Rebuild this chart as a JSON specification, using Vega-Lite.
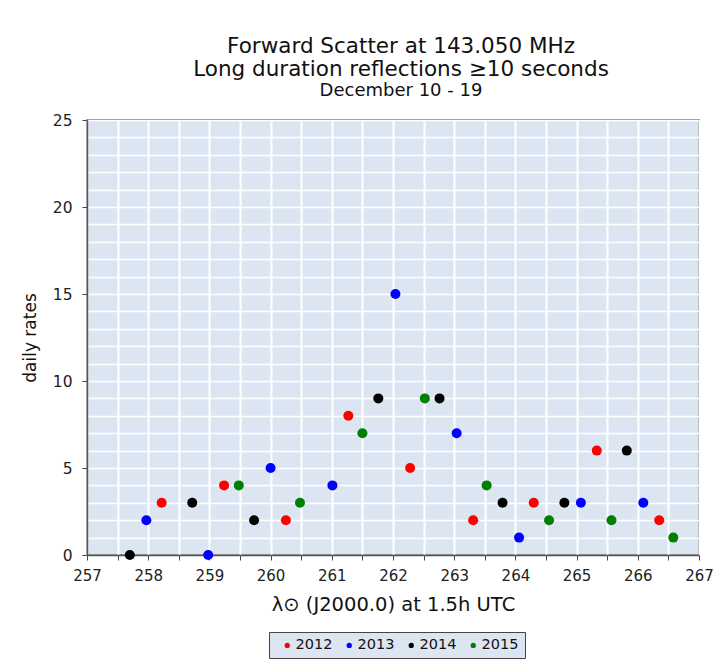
{
  "$schema": "https://vega.github.io/schema/vega-lite/v6.json",
  "width": 612,
  "height": 435,
  "autosize": {"type": "none"},
  "padding": {"left": 87, "top": 120, "right": 20, "bottom": 109},
  "background": "white",
  "title": {
    "text": ["Forward Scatter at 143.050 MHz", "Long duration reflections ≥10 seconds"],
    "subtitle": "December 10 - 19",
    "font": "DejaVu Sans",
    "fontSize": 21.5,
    "fontWeight": "normal",
    "color": "#111111",
    "lineHeight": 23,
    "subtitleFont": "DejaVu Sans",
    "subtitleFontSize": 18,
    "subtitleColor": "#111111",
    "subtitleLineHeight": 20,
    "subtitlePadding": 1.5,
    "offset": 13,
    "anchor": "middle",
    "dx": 8
  },
  "config": {
    "view": {"stroke": "#555555", "strokeWidth": 1.5, "fill": "#dce6f2"},
    "axis": {
      "labelFont": "DejaVu Sans",
      "titleFont": "DejaVu Sans",
      "labelColor": "#222222",
      "titleColor": "#111111",
      "titleFontWeight": "normal",
      "domainColor": "#555555",
      "domainWidth": 1.5,
      "tickColor": "#444444",
      "tickSize": 5,
      "gridColor": "#ffffff",
      "gridOpacity": 1
    }
  },
  "data": {
    "values": [
      {"year": "2012", "lambda": 258.22, "rate": 3},
      {"year": "2012", "lambda": 259.24, "rate": 4},
      {"year": "2012", "lambda": 260.25, "rate": 2},
      {"year": "2012", "lambda": 261.27, "rate": 8},
      {"year": "2012", "lambda": 262.28, "rate": 5},
      {"year": "2012", "lambda": 263.31, "rate": 2},
      {"year": "2012", "lambda": 264.30, "rate": 3},
      {"year": "2012", "lambda": 265.33, "rate": 6},
      {"year": "2012", "lambda": 266.35, "rate": 2},
      {"year": "2013", "lambda": 257.97, "rate": 2},
      {"year": "2013", "lambda": 258.98, "rate": 0},
      {"year": "2013", "lambda": 260.00, "rate": 5},
      {"year": "2013", "lambda": 261.01, "rate": 4},
      {"year": "2013", "lambda": 262.04, "rate": 15},
      {"year": "2013", "lambda": 263.04, "rate": 7},
      {"year": "2013", "lambda": 264.06, "rate": 1},
      {"year": "2013", "lambda": 265.07, "rate": 3},
      {"year": "2013", "lambda": 266.09, "rate": 3},
      {"year": "2014", "lambda": 257.70, "rate": 0},
      {"year": "2014", "lambda": 258.72, "rate": 3},
      {"year": "2014", "lambda": 259.73, "rate": 2},
      {"year": "2014", "lambda": 261.76, "rate": 9},
      {"year": "2014", "lambda": 262.76, "rate": 9},
      {"year": "2014", "lambda": 263.79, "rate": 3},
      {"year": "2014", "lambda": 264.80, "rate": 3},
      {"year": "2014", "lambda": 265.82, "rate": 6},
      {"year": "2015", "lambda": 259.48, "rate": 4},
      {"year": "2015", "lambda": 260.48, "rate": 3},
      {"year": "2015", "lambda": 261.50, "rate": 7},
      {"year": "2015", "lambda": 262.52, "rate": 9},
      {"year": "2015", "lambda": 263.53, "rate": 4},
      {"year": "2015", "lambda": 264.55, "rate": 2},
      {"year": "2015", "lambda": 265.57, "rate": 2},
      {"year": "2015", "lambda": 266.58, "rate": 1}
    ]
  },
  "mark": {"type": "circle", "size": 100, "opacity": 1},
  "encoding": {
    "x": {
      "field": "lambda",
      "type": "quantitative",
      "scale": {"domain": [257, 267], "nice": false, "zero": false},
      "axis": {
        "values": [257, 257.5, 258, 258.5, 259, 259.5, 260, 260.5, 261, 261.5, 262, 262.5, 263, 263.5, 264, 264.5, 265, 265.5, 266, 266.5, 267],
        "labelExpr": "datum.value % 1 === 0 ? format(datum.value, 'd') : ''",
        "labelFontSize": 15,
        "labelPadding": 8,
        "labelFlush": false,
        "gridWidth": 2,
        "title": "λ⊙ (J2000.0) at 1.5h UTC",
        "titleFontSize": 19.5,
        "titlePadding": 12
      }
    },
    "y": {
      "field": "rate",
      "type": "quantitative",
      "scale": {"domain": [0, 25], "nice": false},
      "axis": {
        "values": [0, 1, 2, 3, 4, 5, 6, 7, 8, 9, 10, 11, 12, 13, 14, 15, 16, 17, 18, 19, 20, 21, 22, 23, 24, 25],
        "labelExpr": "datum.value % 5 === 0 ? format(datum.value, 'd') : ''",
        "tickOpacity": {"condition": {"test": "datum.value % 5 === 0", "value": 1}, "value": 0},
        "labelFontSize": 15.5,
        "labelPadding": 10,
        "labelFlush": false,
        "gridWidth": 1.5,
        "title": "daily rates",
        "titleFontSize": 17,
        "titlePadding": 13
      }
    },
    "color": {
      "field": "year",
      "type": "nominal",
      "scale": {"domain": ["2012", "2013", "2014", "2015"], "range": ["#ff0000", "#0000ff", "#000000", "#008000"]},
      "legend": {
        "orient": "none",
        "legendX": 182,
        "legendY": 512,
        "direction": "horizontal",
        "title": null,
        "fillColor": "#dce6f2",
        "strokeColor": "#444444",
        "padding": 6,
        "symbolType": "circle",
        "symbolSize": 28,
        "symbolStrokeWidth": 0,
        "symbolOffset": 5,
        "labelFont": "DejaVu Sans",
        "labelFontSize": 14.5,
        "labelColor": "#111111",
        "labelOffset": 1,
        "columnPadding": 4
      }
    }
  }
}
